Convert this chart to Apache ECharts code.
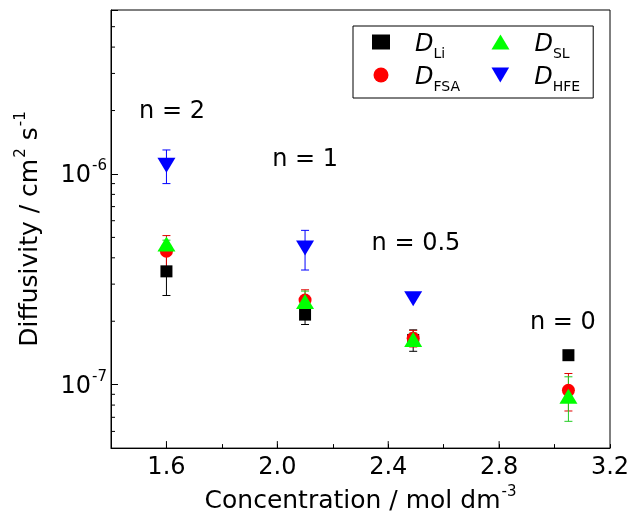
<!DOCTYPE html>
<html>
<head>
<meta charset="utf-8">
<script src="https://cdn.jsdelivr.net/npm/echarts@6/dist/echarts.min.js"></script>
<style>
html, body { margin: 0; padding: 0; background: #fff; }
#chart { width: 633px; height: 519px; }
</style>
</head>
<body>
<div id="chart"></div>
<script>
// concentration / mol dm-3 of the four samples (n = 2, 1, 0.5, 0)
const concentration = [1.6, 2.1, 2.49, 3.05]
const dLi = [3.45e-7, 2.15e-7, 1.63e-7, 1.38e-7]
const dLiErr = [0.8e-7, 0.22e-7, 0.19e-7, 0]
const dFsa = [4.3e-7, 2.52e-7, 1.66e-7, 9.4e-8]
const dFsaErr = [0.8e-7, 0.3e-7, 0.15e-7, 1.9e-8]
const dSl = [4.65e-7, 2.48e-7, 1.64e-7, 8.8e-8]
const dSlErr = [0.2e-7, 0.3e-7, 0.12e-7, 2.1e-8]
const dHfe = [1.1e-6, 4.45e-7, 2.56e-7, null]
const dHfeErr = [2.0e-7, 0.95e-7, 0, 0]

// "n = ..." annotations
const nLabels = ['n = 2', 'n = 1', 'n = 0.5', 'n = 0']
const nLabelX = [1.62, 2.1, 2.5, 3.03]
const nLabelY = [1.97e-6, 1.17e-6, 4.65e-7, 1.97e-7]

// axis ticks
const xMajorTicks = [1.6, 2.0, 2.4, 2.8]
const yMinorTicks = [6e-8, 7e-8, 8e-8, 9e-8, 2e-7, 3e-7, 4e-7, 5e-7, 6e-7, 7e-7, 8e-7, 9e-7, 2e-6, 3e-6, 4e-6, 5e-6]

const X_MIN = 1.4
const X_MAX = 3.2
const Y_MIN = 5e-8
const Y_MAX = 6e-6
const FONT = 'DejaVu Sans, Arial, sans-serif'

const pairs = (vals) => concentration.map((c, i) => [c, vals[i]]).filter(p => p[1] != null)
const bars = (vals, errs) => concentration
  .map((c, i) => [c, vals[i] - errs[i], vals[i] + errs[i]])
  .filter((p, i) => vals[i] != null && errs[i] > 0)

function errorBar (color) {
  return function (params, api) {
    const a = api.coord([api.value(0), api.value(1)])
    const b = api.coord([api.value(0), api.value(2)])
    const w = 4
    const st = { stroke: color, lineWidth: 1 }
    return {
      type: 'group',
      children: [
        { type: 'line', shape: { x1: a[0], y1: a[1], x2: b[0], y2: b[1] }, style: st },
        { type: 'line', shape: { x1: a[0] - w, y1: a[1], x2: a[0] + w, y2: a[1] }, style: st },
        { type: 'line', shape: { x1: b[0] - w, y1: b[1], x2: b[0] + w, y2: b[1] }, style: st }
      ]
    }
  }
}

// base text + superscript, used by tick labels and axis names
const supRich = {
  b: { fontFamily: FONT, fontSize: 24, lineHeight: 28, verticalAlign: 'bottom', color: '#000' },
  sup: { fontFamily: FONT, fontSize: 15, lineHeight: 15, padding: [0, 0, 14, 1], verticalAlign: 'bottom', color: '#000' }
}
const titleRich = {
  b: { fontFamily: FONT, fontSize: 25, lineHeight: 28, verticalAlign: 'bottom', color: '#000' },
  sup: { fontFamily: FONT, fontSize: 15, lineHeight: 15, padding: [0, 0, 14, 1], verticalAlign: 'bottom', color: '#000' }
}

let option = {
  animation: false,
  textStyle: { fontFamily: FONT },
  grid: {
    left: 111,
    right: 23,
    top: 10,
    bottom: 69,
    show: true,
    borderColor: '#000',
    borderWidth: 1
  },
  legend: {
    data: ['Li', 'SL', 'FSA', 'HFE'],
    left: 353,
    top: 26,
    width: 215,
    padding: [4, 13, 4, 19],
    itemGap: 2,
    itemWidth: 18,
    itemHeight: 15,
    borderColor: '#000',
    borderWidth: 1,
    borderRadius: 0,
    formatter: (name) => {
      const col2 = name === 'SL' || name === 'HFE'
      return '{d|D}{' + (col2 ? 's2' : 's') + '|' + name + '}'
    },
    textStyle: {
      rich: {
        d: { fontFamily: FONT, fontSize: 24, fontStyle: 'italic', lineHeight: 24, padding: [3, 0, 0, 20], verticalAlign: 'top', color: '#000' },
        s: { fontFamily: FONT, fontSize: 14, lineHeight: 15, width: 56, padding: [17, 0, 0, 0], verticalAlign: 'top', color: '#000' },
        s2: { fontFamily: FONT, fontSize: 14, lineHeight: 15, padding: [17, 0, 0, 0], verticalAlign: 'top', color: '#000' }
      }
    }
  },
  xAxis: {
    type: 'value',
    min: X_MIN,
    max: X_MAX,
    interval: 0.2,
    splitLine: { show: false },
    axisLine: { lineStyle: { color: '#000', width: 1 } },
    axisTick: { inside: true, length: 4, lineStyle: { color: '#000' } },
    axisLabel: {
      color: '#000',
      fontSize: 24,
      fontFamily: FONT,
      margin: 8,
      formatter: (v) => Math.round(v * 10) % 4 === 0 ? v.toFixed(1) : ''
    },
    name: '{b|Concentration / mol dm}{sup|-3}',
    nameLocation: 'middle',
    nameGap: 33,
    nameTextStyle: { rich: titleRich }
  },
  yAxis: {
    type: 'log',
    logBase: 10,
    min: Y_MIN,
    max: Y_MAX,
    splitLine: { show: false },
    axisLine: { lineStyle: { color: '#000', width: 1 } },
    axisTick: { inside: true, length: 7, lineStyle: { color: '#000' } },
    axisLabel: {
      margin: 4,
      formatter: (v) => {
        const e = Math.log10(v)
        if (Math.abs(e - Math.round(e)) > 1e-6) return ''
        return '{b|10}{sup|' + Math.round(e) + '}'
      },
      rich: supRich
    },
    name: '{b|Diffusivity / cm}{sup|2}{b| s}{sup|-1}',
    nameLocation: 'middle',
    nameGap: 68,
    nameTextStyle: { rich: titleRich }
  },
  series: [
    {
      name: 'Li',
      type: 'scatter',
      symbol: 'rect',
      symbolSize: 12,
      symbolKeepAspect: true,
      itemStyle: { color: '#000', opacity: 1 },
      data: pairs(dLi)
    },
    {
      type: 'custom',
      renderItem: errorBar('#000'),
      encode: { x: 0, y: [1, 2] },
      silent: true,
      data: bars(dLi, dLiErr)
    },
    {
      name: 'FSA',
      type: 'scatter',
      symbol: 'circle',
      symbolSize: 13,
      symbolKeepAspect: true,
      itemStyle: { color: '#ff0000', opacity: 1 },
      data: pairs(dFsa)
    },
    {
      type: 'custom',
      renderItem: errorBar('#e00000'),
      encode: { x: 0, y: [1, 2] },
      silent: true,
      data: bars(dFsa, dFsaErr)
    },
    {
      name: 'SL',
      type: 'scatter',
      symbol: 'triangle',
      symbolSize: [18, 15],
      itemStyle: { color: '#00ff00', opacity: 1 },
      data: pairs(dSl)
    },
    {
      type: 'custom',
      renderItem: errorBar('#22cc22'),
      encode: { x: 0, y: [1, 2] },
      silent: true,
      data: bars(dSl, dSlErr)
    },
    {
      name: 'HFE',
      type: 'scatter',
      symbol: 'path://M0,0L10,0L5,8.5Z',
      symbolSize: [18, 15],
      itemStyle: { color: '#0000ff', opacity: 1 },
      data: pairs(dHfe)
    },
    {
      type: 'custom',
      renderItem: errorBar('#0000ff'),
      encode: { x: 0, y: [1, 2] },
      silent: true,
      data: bars(dHfe, dHfeErr)
    },
    {
      // "n = x" annotations
      type: 'custom',
      silent: true,
      renderItem: (params, api) => {
        const p = api.coord([api.value(0), api.value(1)])
        return {
          type: 'text',
          x: p[0],
          y: p[1],
          style: {
            text: nLabels[params.dataIndex],
            fill: '#000',
            font: '24px ' + FONT,
            align: 'center',
            verticalAlign: 'middle'
          }
        }
      },
      data: nLabels.map((t, i) => [nLabelX[i], nLabelY[i]])
    },
    {
      // longer major ticks on x axis
      type: 'custom',
      silent: true,
      clip: false,
      renderItem: (params, api) => {
        const cs = params.coordSys
        const x = api.coord([api.value(0), api.value(1)])[0]
        const yb = cs.y + cs.height
        return { type: 'line', shape: { x1: x, y1: yb, x2: x, y2: yb - 7 }, style: { stroke: '#000', lineWidth: 1 } }
      },
      data: xMajorTicks.map(v => [v, Y_MIN])
    },
    {
      // minor ticks on log y axis
      type: 'custom',
      silent: true,
      clip: false,
      renderItem: (params, api) => {
        const cs = params.coordSys
        const y = api.coord([api.value(0), api.value(1)])[1]
        return { type: 'line', shape: { x1: cs.x, y1: y, x2: cs.x + 4, y2: y }, style: { stroke: '#000', lineWidth: 1 } }
      },
      data: yMinorTicks.map(v => [X_MIN, v])
    }
  ]
}

const myChart = echarts.init(document.getElementById('chart'))
myChart.setOption(option, true)
</script>
</body>
</html>
